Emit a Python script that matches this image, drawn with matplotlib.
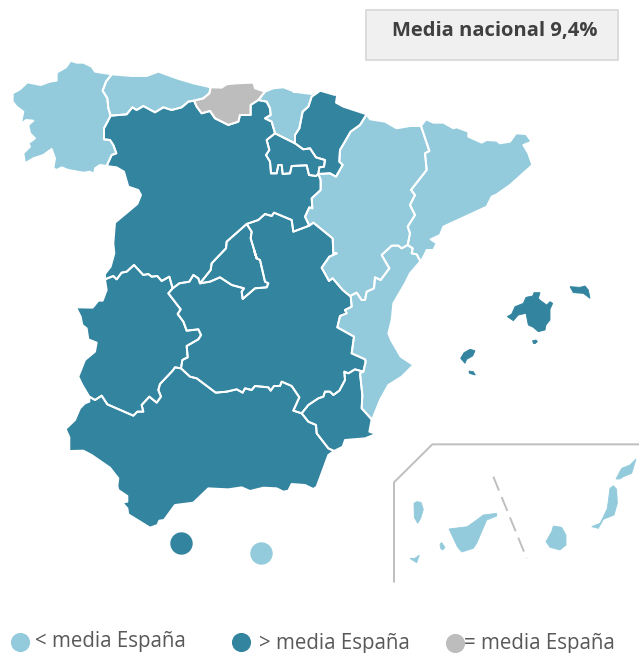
import matplotlib
matplotlib.use("Agg")
import matplotlib.pyplot as plt
from matplotlib.patches import Polygon, Rectangle

LIGHT, DARK, GREY = "#93CBDD", "#33849F", "#BDBDBD"

def z1(p): return [(x/3, 50+y/3) for x, y in p]
def z2(p): return [(260+x/3, 80+y/3) for x, y in p]
def z3(p): return [(50+x/3, 250+y/3) for x, y in p]
def z4(p): return [(50+x/3, 380+y/3) for x, y in p]
def z5(p): return [(380+x/3, 430+y/3) for x, y in p]
def z6(p): return [(440+x/3, 270+y/3) for x, y in p]
def z7(p): return [(330+x/3, 240+y/3) for x, y in p]

# shared borders, in map coordinates
gal_ast = z1([(335,73),(318,95),(308,122),(322,145),(325,175),(332,197)])
gal_cyl = z1([(332,197),(312,235),(312,268),(330,270),(340,285),(349,310),(335,315),(320,348)])
gal_coast = z1([(320,348),(300,345),(285,355),(282,372),(270,365),(250,368),(205,360),(185,352),(170,360),(160,355),(165,325),(155,297),(130,315),(100,325),(75,340),(70,310),(90,290),(85,280),(105,265),(90,250),(85,225),(100,212),(78,210),(62,222),(70,185),(50,170),(38,155),(38,130),(60,118),(82,97),(122,105),(150,95),(170,92),(170,68),(198,52),(212,32),(230,38),(250,38),(275,50),(285,65),(335,73)])
ast_coast = z1([(335,73),(395,78),(440,78),(475,65),(530,85),(580,100),(632,112)])
ast_can = z1([(632,112),(628,130),(610,145),(582,152)])
ast_cyl = z1([(332,197),(380,193),(397,172),(410,180),(430,168),(465,187),(490,172),(515,180),(545,172),(565,155),(582,152)])
can_coast = z1([(632,112),(665,113),(680,103),(710,100),(760,98),(765,115),(795,125)])
can_cyl = z1([(582,152),(590,170),(605,190),(630,183),(645,205),(685,225),(715,215),(720,195),(752,195),(752,165),(775,150),(795,125)])
cyl_pv = z1([(775,150),(800,155),(810,175),(812,195),(795,205),(815,215),(825,250)])
pv_coast = z1([(795,125),(820,115),(850,112),(885,125)]) + z2([(100,35),(155,42),(180,32)])
pv_nav = z2([(180,32),(155,50),(145,80),(128,95),(118,145),(105,165),(105,190)])
pv_rio = z2([(105,190),(75,175),(45,160)])
nav_coast = z2([(180,32),(225,45),(232,42),(228,68),(250,80),(320,103)])
nav_ara = z2([(320,103),(300,135),(272,155),(240,210),(238,245),(248,255),(228,290),(210,280),(175,282)])
nav_rio = z2([(105,190),(130,208),(150,205),(168,232),(195,240),(192,260),(178,262),(175,282)])
rio_cyl = z2([(45,160),(20,180),(28,210),(18,225),(30,245),(33,280),(50,280),(55,255),(65,255),(68,282),(90,280),(95,258),(140,256),(147,285),(168,288),(175,282)])
cyl_ara = z2([(175,282),(182,300),(182,330),(155,355),(157,385),(148,382),(135,410),(148,437)])
cyl_clm = z1([(740,522),(775,510),(795,492),(815,498),(822,488),(875,510),(880,545)]) + z2([(148,437)])
ara_clm = z2([(148,437),(160,428),(218,475),(220,520),(230,520),(208,530),(185,563),(207,603),(218,595),(248,630),(270,648)])
ara_val = z2([(270,648),(290,638),(305,660),(315,660),(320,635),(342,625),(345,592),(362,600),(388,565),(365,525),(395,497),(415,497),(425,505),(443,495)])
ara_cat = z2([(443,495),(450,460),(443,440),(465,405),(450,375),(465,345),(453,330),(500,270),(495,220),(508,213),(483,138)])
ara_coast = z2([(320,103),(330,118),(375,125),(410,145),(450,138),(483,138)])
cat_coast = z2([(483,138),(498,118),(520,128),(550,128),(580,145),(590,142),(625,155),(625,170),(665,188),(680,180),(710,182),(720,190),(750,185),(768,160),(798,162),(815,185),(790,195),(805,220),(817,255),(750,315),(710,343),(695,350),(680,380),(550,440),(540,465),(512,478),(530,490),(520,510),(500,510),(493,525),(482,545)])
val_cat = z2([(443,495),(458,505),(455,520),(470,523),(482,545)])
val_coast = z7([(270,65),(240,100),(225,130),(190,190),(185,240),(175,280),(183,300),(212,350),(250,375),(240,385),(215,410),(175,435),(150,480),(130,530),(125,538)])
val_mur = z7([(125,538),(95,505),(97,465),(90,400),(100,395)])
clm_val = z7([(100,395),(107,365),(105,358),(65,340),(72,290),(22,262),(30,228),(50,220),(45,210),(65,200),(62,168)])
clm_mur = z3([(755,490),(775,465),(805,445),(820,440),(825,425),(840,425),(850,435),(868,422),(885,390),(883,365),(895,370),(915,358)]) + z7([(100,395)])
clm_and = z3([(393,355),(420,380),(440,385),(497,428),(530,425),(560,418),(578,428),(585,415),(605,420),(615,408),(655,412),(662,422),(672,408),(690,408),(695,395),(725,408),(748,442),(730,482),(755,490)])
mur_coast = z4([(965,118),(958,155),(978,162),(945,175),(885,180),(878,200),(852,213)])
mur_and = z4([(755,100),(775,125),(798,135),(800,160),(835,205),(852,213)])
and_coast = z4([(852,213),(835,225),(800,320),(790,327),(765,315),(725,312),(715,332),(700,335),(680,325),(640,323),(600,333),(575,322),(535,328),(475,325),(430,368),(375,375),(342,420),(328,422),(322,435),(300,443),(235,403),(232,385),(217,368),(232,365),(232,348),(205,330),(202,318),(205,295),(180,263),(125,225),(100,212),(58,213),(58,172),(47,147),(75,120),(90,85),(105,70),(118,65),(118,50)])
ext_and = z3([(393,355),(375,352),(368,362),(330,402),(325,420),(333,440),(320,458),(298,440),(275,465),(280,485),(262,485),(250,497),(172,463),(155,437),(135,450),(118,440)])
ext_coast = z3([(118,440),(97,405),(85,380),(105,330),(135,305),(140,278),(115,268),(110,235),(97,225),(92,200),(78,172),(128,173),(145,152),(158,152),(170,120),(165,88)])
ext_cyl = z3([(165,88),(190,78),(200,88),(215,68),(230,65),(252,45),(280,75),(295,72),(305,80),(322,78),(335,93),(358,80),(368,115)])
ext_clm = z3([(368,115),(355,130),(392,178),(383,192),(400,215),(410,242),(445,238),(453,255),(445,268),(410,288),(413,322),(397,330),(393,355)])
cyl_clm_w = z3([(368,115),(388,100),(418,95),(430,75),(445,85),(450,100)])
mad_cyl = z1([(740,522),(680,575),(678,595),(635,640),(632,660)]) + z3([(450,100)])
mad_clm = z1([(740,522),(755,545),(752,565),(770,625)]) + z3([(612,0),(620,25),(630,30),(645,95),(655,100),(650,112),(615,115),(578,147),(575,125),(582,115),(545,105),(510,82),(480,95),(450,100)])
cyl_coast = z1([(320,348),(350,352),(372,365),(385,410),(415,420),(423,435),(412,462),(345,518),(340,580),(343,610),(332,650),(315,672)]) + z3([(165,88)])

r = lambda p: p[::-1]
galicia = gal_coast + gal_ast + gal_cyl
asturias = ast_coast + ast_can + r(ast_cyl) + r(gal_ast)
cantabria = ast_can + can_cyl + r(can_coast)
pais_vasco = pv_coast + pv_nav + pv_rio + r(cyl_pv)
navarra = nav_coast + nav_ara + r(nav_rio) + r(pv_nav)
rioja = r(pv_rio) + nav_rio + r(rio_cyl)
aragon = ara_coast + r(ara_cat) + r(ara_val) + r(ara_clm) + r(cyl_ara) + r(nav_ara)
cataluna = cat_coast + r(val_cat) + ara_cat
valencia = ara_val + val_cat + val_coast + val_mur + clm_val
murcia = mur_coast + r(mur_and) + clm_mur + r(val_mur)
andalucia = and_coast + r(ext_and) + clm_and + mur_and
extremadura = ext_coast + ext_cyl + ext_clm + ext_and
clm = cyl_clm_w + r(mad_clm) + cyl_clm + ara_clm + r(clm_val) + r(clm_mur) + r(clm_and) + r(ext_clm)
madrid = mad_cyl + r(mad_clm)
cyl = r(gal_cyl) + ast_cyl + can_cyl[:11] + cyl_pv + rio_cyl + cyl_ara + r(cyl_clm) + mad_cyl + r(cyl_clm_w) + r(ext_cyl) + r(cyl_coast)

regions_light = [galicia, asturias, pais_vasco, aragon, cataluna, valencia]
regions_dark = [navarra, rioja, cyl, madrid, clm, extremadura, andalucia, murcia]
regions_grey = [cantabria]

balearics = [
    z6([(202,140),(215,132),(225,110),(250,100),(258,82),(278,78),(282,68),(300,68),(295,85),(302,92),(320,105),(330,95),(338,100),(330,118),(330,150),(318,165),(315,180),(295,185),(280,172),(265,165),(258,130),(235,135),(220,152)]),
    z6([(390,50),(420,52),(435,48),(445,60),(450,85),(430,70),(400,68)]),
    z6([(278,212),(288,210),(292,215),(285,221),(280,220)]),
    z6([(62,265),(72,248),(90,238),(105,242),(98,258),(80,268),(75,280)]),
    z6([(87,303),(100,305),(106,315),(95,312),(88,310)]),
]
canaries = [
    z5([(102,220),(110,215),(123,217),(130,238),(122,265),(113,280),(103,262)]),
    z5([(90,385),(105,385),(118,375),(110,398),(100,392)]),
    z5([(180,342),(185,338),(195,352),(188,360),(182,355)]),
    z5([(207,297),(262,290),(290,270),(310,255),(350,250),(350,258),(320,270),(305,305),(290,340),(280,355),(245,366),(232,350)]),
    z5([(520,288),(545,292),(558,315),(558,345),(540,360),(510,352),(498,335),(515,305)]),
    z5([(635,290),(660,280),(668,265),(682,235),(690,175),(700,167),(710,178),(712,220),(702,255),(670,268),(655,295)]),
    z5([(708,147),(725,115),(750,105),(768,87),(755,130),(730,140),(720,147)]),
]
ceuta = [(181.3, 543)]
melilla = [(261.3, 553)]
frame = z5([(42,455),(42,157),(157,43),(777,43)])
divider = z5([(340,140),(440,385)])
legend_labels = ["< media España", "> media España", "= media España"]
legend_colors = [LIGHT, DARK, GREY]
legend_dots = [(20, 642), (241, 642), (455, 643)]
legend_text = [(35, 641), (259, 643), (464, 643)]
title = "Media nacional 9,4%"

fig = plt.figure(figsize=(6.39, 6.53), dpi=100)
ax = fig.add_axes([0, 0, 1, 1])
ax.set_xlim(0, 639); ax.set_ylim(653, 0); ax.axis("off")

for group, col in ((regions_light, LIGHT), (regions_grey, GREY), (regions_dark, DARK)):
    for poly in group:
        ax.add_patch(Polygon(poly, closed=True, fc=col, ec="none", lw=0, zorder=2))
for group in (regions_light, regions_grey, regions_dark):
    for poly in group:
        ax.add_patch(Polygon(poly, closed=True, fc="none", ec="white", lw=1.4, joinstyle="round", zorder=3))
for poly in balearics:
    ax.add_patch(Polygon(poly, closed=True, fc=DARK, ec=DARK, lw=0.6, zorder=2))
for poly in canaries:
    ax.add_patch(Polygon(poly, closed=True, fc=LIGHT, ec=LIGHT, lw=0.6, zorder=2))

ax.scatter(*zip(*ceuta), s=260, c=DARK, lw=0, zorder=4)
ax.scatter(*zip(*melilla), s=260, c=LIGHT, lw=0, zorder=4)

ax.plot(*zip(*frame), color="#BFBFBF", lw=1.4, solid_joinstyle="miter", zorder=2)
ax.plot(*zip(*divider), color="#BFBFBF", lw=1.4, linestyle=(0, (7.7, 3.6)), zorder=2)

ax.add_patch(Rectangle((366, 10), 252, 50, fc="#F0F0F0", ec="#DCDCDC", lw=1.4, zorder=2))
ax.text(495, 31, title, ha="center", va="center", family="Open Sans", weight="bold", fontsize=14.5, color="#404040", zorder=5)

for (x, y), col in zip(legend_dots, legend_colors):
    ax.scatter([x], [y], s=190, c=col, lw=0, zorder=4)
for (x, y), lab in zip(legend_text, legend_labels):
    ax.text(x, y, lab, ha="left", va="center", family="Open Sans", fontsize=14.8, color="#595959", zorder=5)

fig.savefig("out.png", dpi=100)
